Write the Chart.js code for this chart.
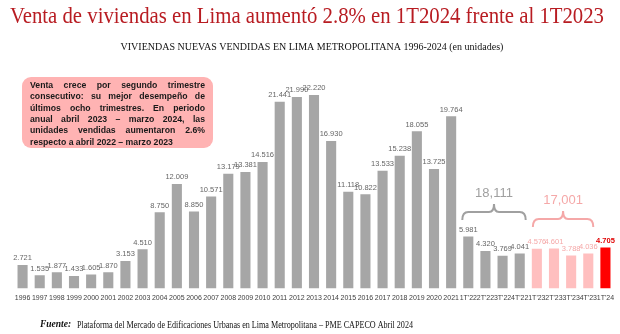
<!DOCTYPE html>
<html>
<head>
<meta charset="utf-8">
<script src="https://cdn.jsdelivr.net/npm/chart.js@4.4.1/dist/chart.umd.min.js"></script>
<style>
  body { margin: 0; background: #fff; }
  #contenedor { width: 620px; height: 334px; }
</style>
</head>
<body>
<div id="contenedor"><canvas id="graficoVentas" width="620" height="334"></canvas></div>
<script>
// Ventas anuales 1996-2021 y trimestrales 2022-2024 (unidades)
const etiquetasAnios = ['1996', '1997', '1998', '1999', '2000', '2001', '2002', '2003', '2004', '2005',
    '2006', '2007', '2008', '2009', '2010', '2011', '2012', '2013', '2014', '2015', '2016', '2017',
    '2018', '2019', '2020', '2021'];
const ventasAnios = [2721, 1535, 1877, 1433, 1605, 1870, 3153, 4510, 8750, 12009, 8850, 10571, 13179,
    13381, 14516, 21441, 21990, 22220, 16930, 11118, 10822, 13533, 15238, 18055, 13725, 19764];

const etiquetasTrim2022 = ["1T'22", "2T'22", "3T'22", "4T'22"];
const ventasTrim2022 = [5981, 4320, 3769, 4041];

const etiquetasTrim2023 = ["1T'23", "2T'23", "3T'23", "4T'23"];
const ventasTrim2023 = [4576, 4601, 3788, 4036];

const etiquetasTrim2024 = ["1T'24"];
const ventasTrim2024 = [4705];

const titulo = 'Venta de viviendas en Lima aumentó 2.8% en 1T2024 frente al 1T2023';
const subtitulo = 'VIVIENDAS NUEVAS VENDIDAS EN LIMA METROPOLITANA 1996-2024 (en unidades)';
const textoNota = [
    'Venta crece por segundo trimestre',
    'consecutivo: su mejor desempeño de',
    'últimos ocho trimestres. En periodo',
    'anual abril 2023 – marzo 2024, las',
    'unidades vendidas aumentaron 2.6%',
    'respecto a abril 2022 – marzo 2023'
];
const fuente = 'Plataforma del Mercado de Edificaciones Urbanas en Lima Metropolitana – PME CAPECO Abril 2024';

const etiquetas = [...etiquetasAnios, ...etiquetasTrim2022, ...etiquetasTrim2023, ...etiquetasTrim2024];
const datos = [...ventasAnios, ...ventasTrim2022, ...ventasTrim2023, ...ventasTrim2024];

const GRIS = '#A6A6A6';
const ROSA = '#FFBFBF';
const ROJO = '#FF0000';

// Color por grupo: gris hasta 2022, rosa 2023, rojo el último trimestre
const nGris = etiquetasAnios.length + etiquetasTrim2022.length;
const nRosa = etiquetasTrim2023.length;
const colores = datos.map((v, i) => i < nGris ? GRIS : (i < nGris + nRosa ? ROSA : ROJO));
const coloresTexto = datos.map((v, i) => i < nGris ? '#666666' : (i < nGris + nRosa ? '#F5A8A8' : '#E00000'));

const formatoPunto = n => n.toLocaleString('en-US').replace(/,/g, '.');
const suma = arr => arr.reduce((a, b) => a + b, 0);

// Etiquetas de valor sobre cada barra
const pluginValores = {
    id: 'valores',
    afterDatasetsDraw(chart) {
        const ctx = chart.ctx;
        const meta = chart.getDatasetMeta(0);
        ctx.save();
        ctx.textAlign = 'center';
        ctx.textBaseline = 'bottom';
        meta.data.forEach((barra, i) => {
            const ultimo = i === datos.length - 1;
            ctx.font = (ultimo ? 'bold ' : '') + '7.5px "Liberation Sans", Arial, sans-serif';
            ctx.fillStyle = coloresTexto[i];
            ctx.fillText(formatoPunto(datos[i]), barra.x, barra.y - 3);
        });
        ctx.restore();
    }
};

// Llave horizontal con el total encima
function dibujarLlave(ctx, x1, x2, y, color, texto) {
    const xm = (x1 + x2) / 2;
    ctx.save();
    ctx.strokeStyle = color;
    ctx.lineWidth = 2;
    ctx.beginPath();
    ctx.moveTo(x1, y + 8);
    ctx.quadraticCurveTo(x1, y, x1 + 6, y);
    ctx.lineTo(xm - 5, y);
    ctx.quadraticCurveTo(xm, y, xm, y - 8);
    ctx.quadraticCurveTo(xm, y, xm + 5, y);
    ctx.lineTo(x2 - 6, y);
    ctx.quadraticCurveTo(x2, y, x2, y + 8);
    ctx.stroke();
    ctx.fillStyle = color;
    ctx.font = '13px "Liberation Sans", Arial, sans-serif';
    ctx.textAlign = 'center';
    ctx.textBaseline = 'middle';
    ctx.fillText(texto, xm, y - 19);
    ctx.restore();
}

// Texto justificado: reparte el espacio sobrante entre palabras
function lineaJustificada(ctx, linea, x, y, ancho) {
    const palabras = linea.split(' ');
    const anchoPalabras = palabras.reduce((a, p) => a + ctx.measureText(p).width, 0);
    const hueco = (ancho - anchoPalabras) / (palabras.length - 1);
    let xi = x;
    palabras.forEach(p => {
        ctx.fillText(p, xi, y);
        xi += ctx.measureText(p).width + hueco;
    });
}

const pluginAdornos = {
    id: 'adornos',
    afterDraw(chart) {
        const ctx = chart.ctx;
        const x = chart.scales.x;
        ctx.save();

        // Título y subtítulo
        ctx.textAlign = 'center';
        ctx.textBaseline = 'middle';
        ctx.fillStyle = '#B81C22';
        ctx.font = '23px "Liberation Serif", "DejaVu Serif", serif';
        ctx.fillText(titulo, 307, 17, 594);
        ctx.fillStyle = '#111';
        ctx.font = '10px "Liberation Serif", "DejaVu Serif", serif';
        ctx.fillText(subtitulo, 312, 47);

        // Recuadro con la nota
        ctx.fillStyle = '#FFB3B3';
        ctx.beginPath();
        ctx.roundRect(22, 77, 191, 71, 9);
        ctx.fill();
        ctx.fillStyle = '#1A1A1A';
        ctx.font = 'bold 8.7px "Liberation Sans", Arial, sans-serif';
        ctx.textAlign = 'left';
        ctx.textBaseline = 'middle';
        textoNota.forEach((linea, i) => {
            const y = 85.5 + i * 11.4;
            if (i < textoNota.length - 1) {
                lineaJustificada(ctx, linea, 30, y, 175);
            } else {
                ctx.fillText(linea, 30, y);
            }
        });

        // Llaves con totales de cada año trimestral
        const i22 = etiquetasAnios.length;
        const i23 = i22 + etiquetasTrim2022.length;
        dibujarLlave(ctx, x.getPixelForValue(i22) - 6, x.getPixelForValue(i23 - 1) + 6, 212,
            '#A0A0A0', suma(ventasTrim2022).toLocaleString('en-US'));
        dibujarLlave(ctx, x.getPixelForValue(i23) - 4, x.getPixelForValue(i23 + nRosa - 1) + 5, 219,
            '#F5A8A8', suma(ventasTrim2023).toLocaleString('en-US'));

        // Fuente (tipografía algo condensada)
        ctx.fillStyle = '#111';
        ctx.textBaseline = 'middle';
        ctx.font = 'bold italic 9.5px "Liberation Serif", "DejaVu Serif", serif';
        ctx.fillText('Fuente:', 40, 325, 32);
        ctx.font = '9.5px "Liberation Serif", "DejaVu Serif", serif';
        ctx.fillText(fuente, 77, 325, 336);
        ctx.restore();
    }
};

const ctx = document.getElementById('graficoVentas').getContext('2d');
const miGrafico = new Chart(ctx, {
    type: 'bar',
    data: {
        labels: etiquetas,
        datasets: [{
            data: datos,
            backgroundColor: colores,
            barPercentage: 0.62,
            categoryPercentage: 0.95
        }]
    },
    options: {
        responsive: false,
        animation: false,
        layout: { padding: { top: 62, left: 14, right: 6, bottom: 27 } },
        plugins: {
            legend: { display: false },
            tooltip: { enabled: false }
        },
        scales: {
            x: {
                grid: { display: false, drawTicks: false },
                border: { display: false },
                ticks: {
                    autoSkip: false,
                    maxRotation: 0,
                    padding: 5,
                    color: '#404040',
                    font: { family: '"Liberation Sans", Arial, sans-serif', size: 7 }
                }
            },
            y: {
                display: false,
                min: 0,
                max: 26000
            }
        }
    },
    plugins: [pluginValores, pluginAdornos]
});
</script>
</body>
</html>
